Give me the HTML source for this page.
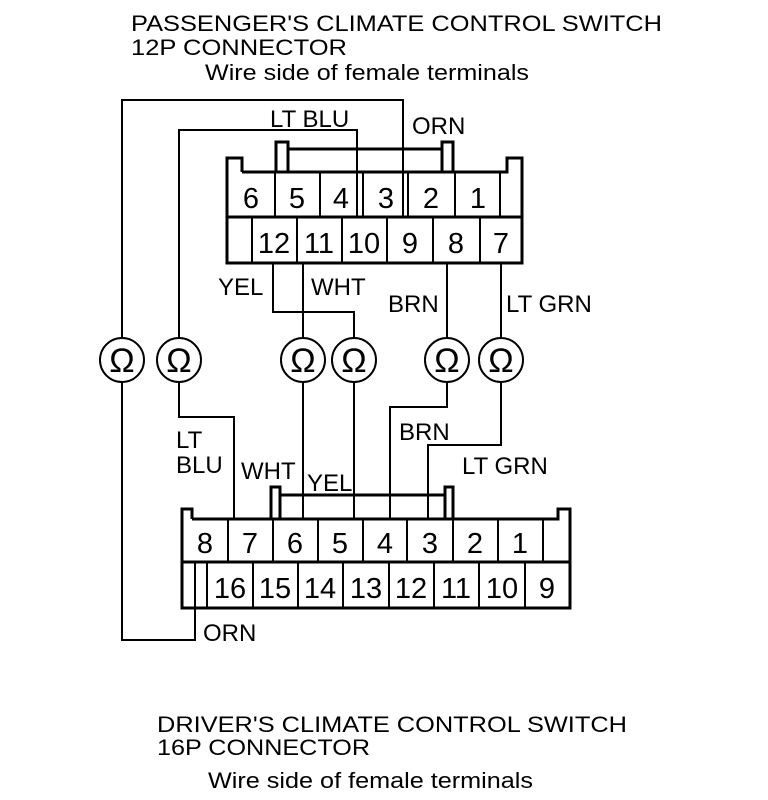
<!DOCTYPE html>
<html><head><meta charset="utf-8"><style>
html,body{margin:0;padding:0;background:#fff;}
svg{display:block;}
text{font-family:"Liberation Sans",Arial,sans-serif;fill:#000;}
</style></head><body>
<svg width="768" height="800" viewBox="0 0 768 800" xmlns="http://www.w3.org/2000/svg">
<g font-size="22">
<text x="131" y="31" textLength="531" lengthAdjust="spacingAndGlyphs">PASSENGER'S CLIMATE CONTROL SWITCH</text>
<text x="131" y="55" textLength="216" lengthAdjust="spacingAndGlyphs">12P CONNECTOR</text>
<text x="205" y="80" textLength="324" lengthAdjust="spacingAndGlyphs">Wire side of female terminals</text>
<text x="157" y="732" textLength="470" lengthAdjust="spacingAndGlyphs">DRIVER'S CLIMATE CONTROL SWITCH</text>
<text x="157" y="755" textLength="213" lengthAdjust="spacingAndGlyphs">16P CONNECTOR</text>
<text x="208" y="788" textLength="325" lengthAdjust="spacingAndGlyphs">Wire side of female terminals</text>
</g>
<g fill="none" stroke="#000" stroke-width="2">
<polyline points="403,217 403,100 122,100 122,338"/>
<polyline points="122,382 122,640 195,640 195,562"/>
<polyline points="357,217 357,130 179,130 179,338"/>
<polyline points="179,382 179,417 234,417 234,519"/>
<polyline points="273,263 273,312 354,312 354,338"/>
<polyline points="354,382 354,519"/>
<polyline points="303,263 303,338"/>
<polyline points="303,382 303,519"/>
<polyline points="447,263 447,338"/>
<polyline points="447,382 447,407 390,407 390,519"/>
<polyline points="501,263 501,338"/>
<polyline points="501,382 501,445 428,445 428,519"/>
<circle cx="122" cy="360" r="22"/>
<circle cx="179" cy="360" r="22"/>
<circle cx="303" cy="360" r="22"/>
<circle cx="354" cy="360" r="22"/>
<circle cx="447" cy="360" r="22"/>
<circle cx="501" cy="360" r="22"/>
</g>
<g fill="none" stroke="#000" stroke-width="3">
<polyline points="242,172 242,158 227,158 227,263 522,263 522,158 507,158 507,172 242,172"/>
<line x1="227" y1="217" x2="522" y2="217"/>
<polyline points="276,172 276,142 288,142 288,172"/>
<polyline points="442,172 442,142 453,142 453,172"/>
<line x1="288" y1="149" x2="442" y2="149"/>
<polyline points="192,519 192,509 182,509 182,608 570,608 570,509 558,509 558,519 192,519"/>
<line x1="182" y1="562" x2="570" y2="562"/>
<polyline points="271,519 271,487 280,487 280,519"/>
<polyline points="445,519 445,487 453,487 453,519"/>
<line x1="280" y1="495" x2="445" y2="495"/>
</g>
<g stroke="#000" stroke-width="2">
<line x1="275" y1="172" x2="275" y2="217"/><line x1="320" y1="172" x2="320" y2="217"/>
<line x1="363" y1="172" x2="363" y2="217"/><line x1="408" y1="172" x2="408" y2="217"/>
<line x1="455" y1="172" x2="455" y2="217"/><line x1="500" y1="172" x2="500" y2="217"/>
<line x1="252" y1="217" x2="252" y2="263"/><line x1="297" y1="217" x2="297" y2="263"/>
<line x1="342" y1="217" x2="342" y2="263"/><line x1="387" y1="217" x2="387" y2="263"/>
<line x1="433" y1="217" x2="433" y2="263"/><line x1="480" y1="217" x2="480" y2="263"/>
<line x1="228" y1="519" x2="228" y2="562"/><line x1="273" y1="519" x2="273" y2="562"/>
<line x1="318" y1="519" x2="318" y2="562"/><line x1="363" y1="519" x2="363" y2="562"/>
<line x1="407" y1="519" x2="407" y2="562"/><line x1="453" y1="519" x2="453" y2="562"/>
<line x1="498" y1="519" x2="498" y2="562"/><line x1="543" y1="519" x2="543" y2="562"/>
<line x1="207" y1="562" x2="207" y2="608"/><line x1="253" y1="562" x2="253" y2="608"/>
<line x1="298" y1="562" x2="298" y2="608"/><line x1="343" y1="562" x2="343" y2="608"/>
<line x1="389" y1="562" x2="389" y2="608"/><line x1="434" y1="562" x2="434" y2="608"/>
<line x1="479" y1="562" x2="479" y2="608"/><line x1="525" y1="562" x2="525" y2="608"/>
</g>
<g font-size="29" text-anchor="middle">
<text x="251" y="208">6</text><text x="297" y="208">5</text><text x="341" y="208">4</text>
<text x="386" y="208">3</text><text x="431" y="208">2</text><text x="478" y="208">1</text>
<text x="274" y="253">12</text><text x="319" y="253">11</text><text x="364" y="253">10</text>
<text x="410" y="253">9</text><text x="456" y="253">8</text><text x="501" y="253">7</text>
<text x="205" y="553">8</text><text x="250" y="553">7</text><text x="295" y="553">6</text>
<text x="340" y="553">5</text><text x="385" y="553">4</text><text x="430" y="553">3</text>
<text x="475" y="553">2</text><text x="520" y="553">1</text>
<text x="230" y="598">16</text><text x="275" y="598">15</text><text x="320" y="598">14</text>
<text x="366" y="598">13</text><text x="411" y="598">12</text><text x="456" y="598">11</text>
<text x="502" y="598">10</text><text x="547" y="598">9</text>
</g>
<g font-size="34" text-anchor="middle">
<text x="122" y="372">Ω</text><text x="179" y="372">Ω</text><text x="303" y="372">Ω</text>
<text x="354" y="372">Ω</text><text x="447" y="372">Ω</text><text x="501" y="372">Ω</text>
</g>
<g font-size="24">
<text x="270" y="127">LT BLU</text>
<text x="412" y="134">ORN</text>
<text x="218" y="295">YEL</text>
<text x="311" y="295">WHT</text>
<text x="388" y="312">BRN</text>
<text x="506" y="312">LT GRN</text>
<text x="399" y="440">BRN</text>
<text x="462" y="474">LT GRN</text>
<text x="176" y="448">LT</text>
<text x="176" y="473">BLU</text>
<text x="241" y="479">WHT</text>
<text x="307" y="491">YEL</text>
<text x="203" y="641">ORN</text>
</g>
</svg>
</body></html>
